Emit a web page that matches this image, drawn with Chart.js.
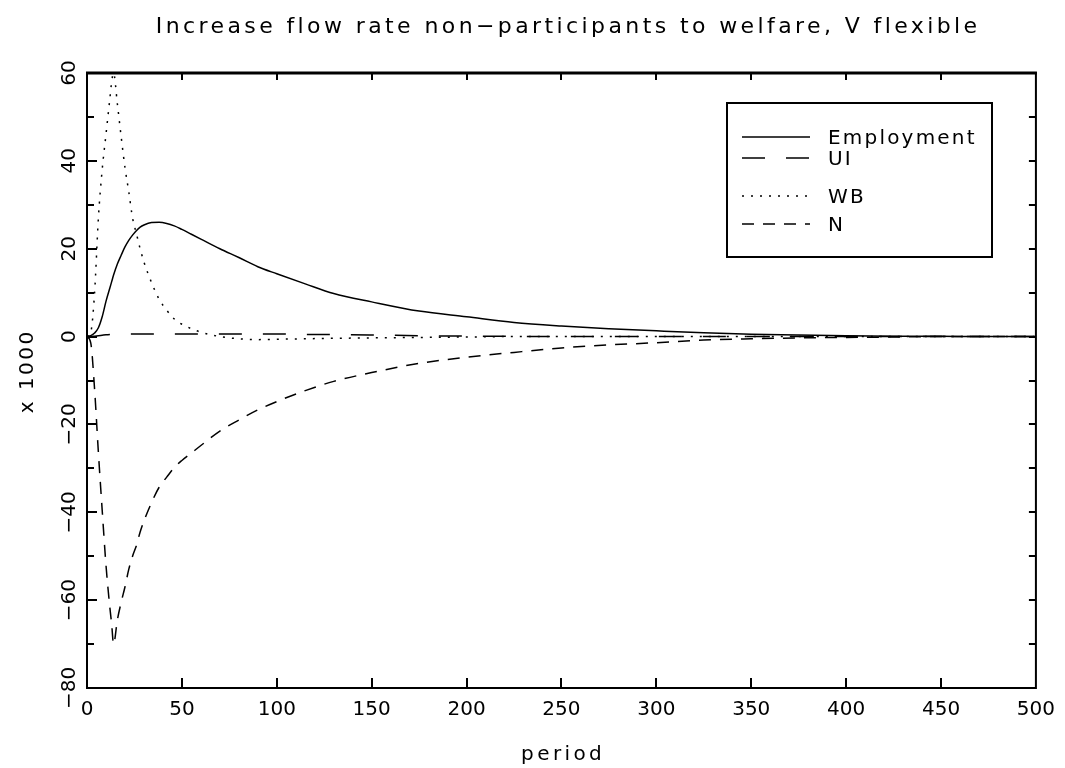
<!DOCTYPE html>
<html lang="en">
<head>
<meta charset="UTF-8">
<title>Increase flow rate non-participants to welfare, V flexible</title>
<script src="https://cdn.jsdelivr.net/npm/chart.js@4.4.1/dist/chart.umd.min.js"></script>
<style>
    body { margin: 0; background: #ffffff; }
    .chart-box { width: 1065px; height: 768px; position: relative; }
</style>
</head>
<body>
<div class="chart-box"><canvas id="chart"></canvas></div>
<script>
// text
const titleText = 'Increase flow rate non\u2212participants to welfare, V flexible';
const xTitle = 'period';
const yTitle = 'x 1000';

// data (values in thousands)
const periods    = [0, 2, 4, 6, 8, 10, 12, 13, 14, 16, 18, 20, 22, 24, 26, 28, 30, 34, 38, 42, 46, 50, 55, 60, 70, 80, 90, 100, 115, 130, 150, 175, 200, 225, 250, 275, 300, 325, 350, 375, 400, 425, 450, 475, 500];
const employment = [0, 0.2, 0.8, 2, 4.5, 8, 11, 12.5, 14, 16.5, 18.5, 20.4, 21.9, 23.1, 24.1, 24.9, 25.4, 25.95, 26, 25.75, 25.2, 24.4, 23.3, 22.2, 20, 18, 15.9, 14.3, 12, 9.8, 7.9, 5.8, 4.5, 3.2, 2.4, 1.8, 1.3, 0.85, 0.55, 0.35, 0.2, 0.1, 0.05, 0, 0];
const ui         = [0, 0, 0.1, 0.2, 0.3, 0.4, 0.45, 0.5, 0.5, 0.55, 0.6, 0.6, 0.6, 0.6, 0.6, 0.6, 0.6, 0.6, 0.6, 0.6, 0.6, 0.6, 0.6, 0.6, 0.6, 0.6, 0.6, 0.6, 0.5, 0.45, 0.35, 0.2, 0.1, 0.05, 0, 0, 0, 0, 0, 0, 0, 0, 0, 0, 0];
const wb         = [0, 1, 10, 27, 38, 46, 54, 58, 60, 53, 45.5, 38.5, 33, 27, 23.5, 20, 17, 12.3, 8.5, 6, 4, 2.8, 1.8, 1, 0, -0.5, -0.7, -0.6, -0.5, -0.4, -0.3, -0.2, -0.1, 0, 0, 0, 0, 0, 0, 0, 0, 0, 0, 0, 0];
const nonPart    = [0, -1.5, -12, -26.4, -39.5, -52, -61.5, -65.5, -70, -64.5, -60.5, -57, -53, -50, -47.6, -44.5, -42, -37.8, -34.3, -32, -29.8, -28.2, -26.5, -24.8, -21.5, -19, -16.7, -14.8, -12.3, -10.2, -8.2, -6.1, -4.7, -3.6, -2.6, -1.9, -1.4, -0.8, -0.5, -0.3, -0.2, -0.1, 0, 0, 0];

// ticks
const xTicks = [0, 50, 100, 150, 200, 250, 300, 350, 400, 450, 500];
const yTicks = [-80, -60, -40, -20, 0, 20, 40, 60];
const yTickLabels = ['\u221280', '\u221260', '\u221240', '\u221220', '0', '20', '40', '60'];
const yMinorTicks = [-70, -50, -30, -10, 10, 30, 50];

const FONT = '"DejaVu Sans", sans-serif';

function pts(values) {
    return periods.map((p, i) => ({ x: p, y: values[i] }));
}

function spacedText(ctx, text, x, y, size, spacing, align, angle) {
    ctx.save();
    ctx.font = size + 'px ' + FONT;
    ctx.letterSpacing = spacing + 'px';
    ctx.fillStyle = '#000';
    ctx.textBaseline = 'alphabetic';
    ctx.translate(x, y);
    if (angle) ctx.rotate(angle);
    let dx = 0;
    if (align === 'center') dx = -(ctx.measureText(text).width - spacing) / 2;
    ctx.textAlign = 'left';
    ctx.fillText(text, dx, 0);
    ctx.restore();
}

// frame, ticks, rotated labels, titles and legend box
const framePlugin = {
    id: 'frame',
    afterDraw(chart) {
        const ctx = chart.ctx;
        const a = chart.chartArea;
        const xs = chart.scales.x, ys = chart.scales.y;
        ctx.save();
        ctx.strokeStyle = '#000';
        ctx.lineWidth = 2;
        ctx.strokeRect(a.left, a.top, a.right - a.left, a.bottom - a.top);
        ctx.lineWidth = 3;
        ctx.beginPath();
        ctx.moveTo(a.left - 1, a.top);
        ctx.lineTo(a.right + 1, a.top);
        ctx.stroke();

        ctx.lineWidth = 2;
        ctx.beginPath();
        xTicks.slice(1, -1).forEach(v => {
            const px = Math.round(xs.getPixelForValue(v));
            ctx.moveTo(px, a.bottom); ctx.lineTo(px, a.bottom - 10);
            ctx.moveTo(px, a.top); ctx.lineTo(px, a.top + 7);
        });
        yTicks.slice(1, -1).forEach(v => {
            const py = Math.round(ys.getPixelForValue(v));
            ctx.moveTo(a.left, py); ctx.lineTo(a.left + 10, py);
            ctx.moveTo(a.right, py); ctx.lineTo(a.right - 7, py);
        });
        yMinorTicks.forEach(v => {
            const py = Math.round(ys.getPixelForValue(v));
            ctx.moveTo(a.left, py); ctx.lineTo(a.left + 7, py);
            ctx.moveTo(a.right, py); ctx.lineTo(a.right - 7, py);
        });
        ctx.stroke();
        ctx.restore();

        // y tick labels, rotated
        yTicks.forEach((v, i) => {
            spacedText(ctx, yTickLabels[i], a.left - 12, ys.getPixelForValue(v), 20, 0, 'center', -Math.PI / 2);
        });

        // titles
        spacedText(ctx, titleText, (a.left + a.right) / 2 + 5, 33, 22, 3.4, 'center');
        spacedText(ctx, xTitle, (a.left + a.right) / 2, 760, 20, 3.4, 'center');
        spacedText(ctx, yTitle, 33, (a.top + a.bottom) / 2 - 8, 20, 2.5, 'center', -Math.PI / 2);

        // legend
        const lx = a.left + 640, ly = a.top + 30;
        ctx.save();
        ctx.fillStyle = '#fff';
        ctx.fillRect(lx, ly, 265, 154);
        ctx.strokeStyle = '#000';
        ctx.lineWidth = 2;
        ctx.strokeRect(lx, ly, 265, 154);
        const rows = [34, 55, 93, 121];
        chart.data.datasets.forEach((ds, i) => {
            const y = ly + rows[i];
            ctx.beginPath();
            ctx.setLineDash(ds.borderDash || []);
            ctx.lineWidth = ds.borderWidth;
            ctx.moveTo(lx + 15, y);
            ctx.lineTo(lx + 83, y);
            ctx.stroke();
            ctx.setLineDash([]);
            spacedText(ctx, ds.label, lx + 101, y + 7, 20, 2.2, 'left');
        });
        ctx.restore();
    }
};

const common = {
    borderColor: '#000000',
    borderWidth: 1.5,
    pointRadius: 0,
    fill: false,
    cubicInterpolationMode: 'monotone'
};

new Chart(document.getElementById('chart'), {
    type: 'line',
    data: {
        datasets: [
            { ...common, label: 'Employment', data: pts(employment) },
            { ...common, label: 'UI', data: pts(ui), borderDash: [23, 21] },
            { ...common, label: 'WB', data: pts(wb), borderDash: [2, 7] },
            { ...common, label: 'N', data: pts(nonPart), borderDash: [12, 9] }
        ]
    },
    options: {
        responsive: true,
        maintainAspectRatio: false,
        animation: false,
        layout: { padding: { top: 73, right: 27, left: 0, bottom: 0 } },
        plugins: {
            legend: { display: false },
            title: { display: false },
            tooltip: { enabled: false }
        },
        scales: {
            x: {
                type: 'linear',
                min: 0,
                max: 500,
                grid: { display: false, drawTicks: false },
                border: { display: false },
                ticks: {
                    stepSize: 50,
                    color: '#000',
                    padding: 10,
                    maxRotation: 0,
                    font: { family: FONT, size: 20 }
                },
                afterFit: scale => { scale.height = 80; }
            },
            y: {
                min: -80,
                max: 60,
                grid: { display: false, drawTicks: false },
                border: { display: false },
                ticks: { display: false, stepSize: 20 },
                afterFit: scale => { scale.width = 87; }
            }
        }
    },
    plugins: [framePlugin]
});
</script>
</body>
</html>
